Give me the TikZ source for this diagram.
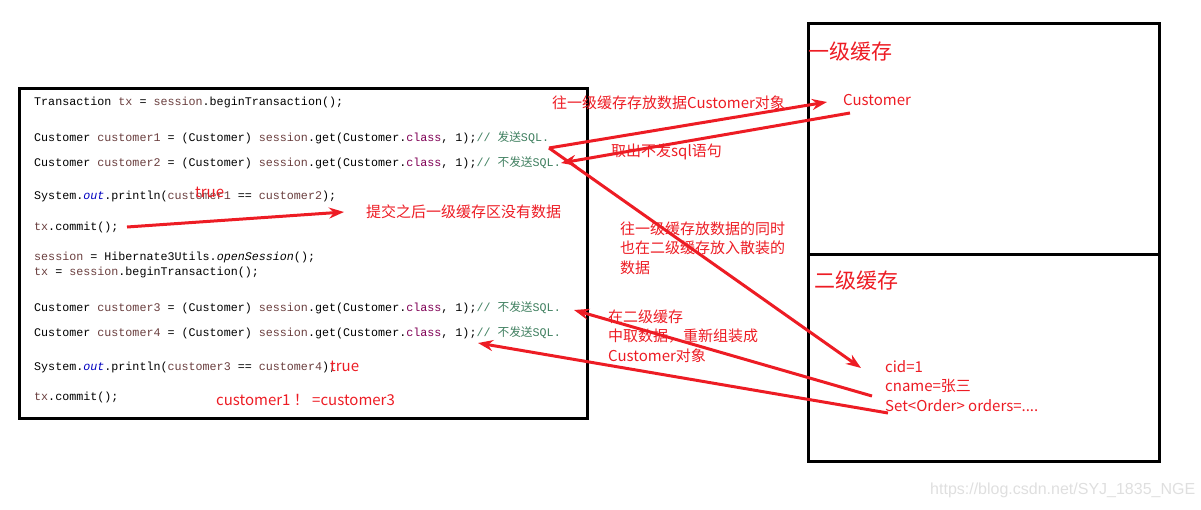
\documentclass[tikz,border=0pt]{standalone}
\usepackage{fontspec}
\setmainfont{Liberation Sans}
\newfontfamily\cjk{Noto Sans CJK SC}
\newfontfamily\codefont{Liberation Mono}
\usepackage{xcolor}
\usetikzlibrary{arrows.meta}

\definecolor{notered}{RGB}{237,28,36}
\definecolor{codevar}{RGB}{106,62,62}
\definecolor{codekw}{RGB}{127,0,85}
\definecolor{codefield}{RGB}{0,0,192}
\definecolor{codecmt}{RGB}{63,127,95}
\newcommand{\cv}[1]{\textcolor{codevar}{#1}}
\newcommand{\ck}[1]{\textcolor{codekw}{#1}}
\newcommand{\cf}[1]{\textcolor{codefield}{\itshape #1}}
\newcommand{\cc}[1]{\textcolor{codecmt}{#1}}
\newcommand{\zh}[1]{{\cjk #1}}

\tikzset{
  codeline/.style={anchor=base west, inner sep=0, font=\codefont\fontsize{11.7}{14}\selectfont},
  note/.style={text=notered, inner sep=0, anchor=west, align=left, font=\cjk\fontsize{15}{19.5}\selectfont},
  heading/.style={note, font=\cjk\fontsize{21}{25}\selectfont},
  redarrow/.style={draw=notered, line width=3, -{Stealth[length=15pt, width=11pt]}},
  frame/.style={draw=black, line width=3},
}

\begin{document}
\begin{tikzpicture}[x=1pt, y=-1pt]
    \useasboundingbox (0,0) rectangle (1201,509);
    % Code box
    \draw[frame] (19,88) rectangle (587,418);
    \node[codeline] (txLine) at (34,105) {Transaction \cv{tx} = \cv{session}.beginTransaction();};
    \node[codeline] (get1) at (34,141) {Customer \cv{customer1} = (Customer) \cv{session}.get(Customer.\ck{class}, 1);\cc{// \zh{发送}SQL.}};
    \node[codeline] (get2) at (34,166) {Customer \cv{customer2} = (Customer) \cv{session}.get(Customer.\ck{class}, 1);\cc{// \zh{不发送}SQL.}};
    \node[codeline] (print1) at (34,199) {System.\cf{out}.println(\cv{customer1} == \cv{customer2});};
    \node[codeline] (commit1) at (34,230) {\cv{tx}.commit();};
    \node[codeline] (open) at (34,260) {\cv{session} = Hibernate3Utils.{\itshape openSession}();};
    \node[codeline] (tx2) at (34,275) {\cv{tx} = \cv{session}.beginTransaction();};
    \node[codeline] (get3) at (34,311) {Customer \cv{customer3} = (Customer) \cv{session}.get(Customer.\ck{class}, 1);\cc{// \zh{不发送}SQL.}};
    \node[codeline] (get4) at (34,336) {Customer \cv{customer4} = (Customer) \cv{session}.get(Customer.\ck{class}, 1);\cc{// \zh{不发送}SQL.}};
    \node[codeline] (print2) at (34,370) {System.\cf{out}.println(\cv{customer3} == \cv{customer4});};
    \node[codeline] (commit2) at (34,400) {\cv{tx}.commit();};
    % Red remarks in the code
    \node[note] (true1) at (195,192) {true};
    \node[note] (true2) at (330,366) {true};
    \node[note] (notSame) at (216,400) {customer1 ！ =customer3};
    % Cache box
    \draw[frame] (808,23) rectangle (1159,461);
    \draw[frame] (808,254) -- (1159,254);
    \node[heading] (level1) at (808,52) {一级缓存};
    \node[heading] (level2) at (814,281) {二级缓存};
    \node[note] (cust) at (843,100) {Customer};
    \node[note] (fields) at (885,386) {cid=1\\cname=张三\\Set<Order> orders=....};
    % Annotations
    \node[note] (putL1) at (552,103) {往一级缓存存放数据Customer对象};
    \node[note] (noSql) at (611,152) {取出不发sql语句};
    \node[note] (afterCommit) at (366,212) {提交之后一级缓存区没有数据};
    \node[note] (putL2) at (620,248) {往一级缓存放数据的同时\\也在二级缓存放入散装的\\数据};
    \node[note] (getL2) at (608,336) {在二级缓存\\中取数据，重新组装成\\Customer对象};
    % Arrow ends
    \coordinate (v) at (549,148);
    \coordinate (custIn) at (827,102);
    \coordinate (custOut) at (850,113);
    \coordinate (c2End) at (561,163);
    \coordinate (cidEnd) at (861,368);
    \coordinate (commitOut) at (127,227);
    \coordinate (commitEnd) at (344,212);
    \coordinate (cnameOut) at (872,396);
    \coordinate (c3End) at (574,310);
    \coordinate (setOut) at (888,413);
    \coordinate (c4End) at (478,343);
    % Arrows
    \draw[redarrow] (v) -- (custIn);
    \draw[redarrow] (v) -- (cidEnd);
    \draw[redarrow] (custOut) -- (c2End);
    \draw[redarrow] (commitOut) -- (commitEnd);
    \draw[redarrow] (cnameOut) -- (c3End);
    \draw[redarrow] (setOut) -- (c4End);
    % Watermark
    \node[anchor=west, inner sep=0, text=gray!25, font=\fontsize{16}{19}\selectfont] (mark) at (930,490) {https://blog.csdn.net/SYJ\_1835\_NGE};
\end{tikzpicture}
\end{document}
